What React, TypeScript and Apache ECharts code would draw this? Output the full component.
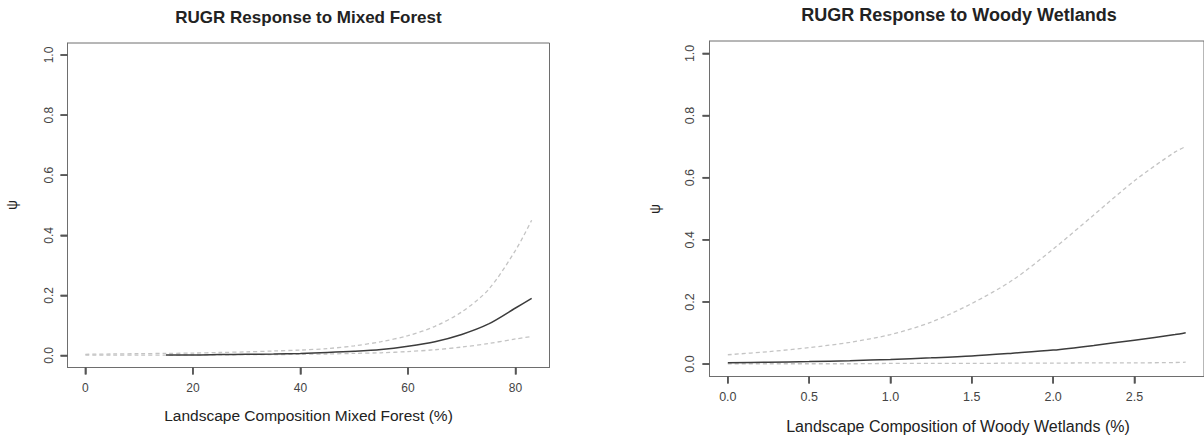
import React, { useEffect, useRef } from "react";
import * as echarts from "echarts";

// Left panel: Mixed Forest
const mixedForestX = [0, 5, 10, 15, 20, 25, 30, 35, 40, 45, 50, 55, 60, 65, 70, 75, 80, 83];
const mixedUpper = [0.004, 0.005, 0.006, 0.007, 0.008, 0.010, 0.012, 0.015, 0.018, 0.023, 0.032, 0.046, 0.066, 0.097, 0.145, 0.22, 0.35, 0.45];
const mixedFit = [null, null, null, 0.002, 0.002, 0.003, 0.004, 0.005, 0.007, 0.010, 0.014, 0.020, 0.031, 0.046, 0.070, 0.105, 0.158, 0.19];
const mixedLower = [0.001, 0.001, 0.001, 0.001, 0.002, 0.002, 0.003, 0.003, 0.004, 0.005, 0.007, 0.009, 0.013, 0.019, 0.028, 0.040, 0.055, 0.063];
const mixedTicks = [0, 20, 40, 60, 80];

// Right panel: Woody Wetlands
const wetlandsX = [0, 0.25, 0.5, 0.75, 1.0, 1.25, 1.5, 1.75, 2.0, 2.25, 2.5, 2.75, 2.815];
const wetlandsUpper = [0.03, 0.04, 0.053, 0.07, 0.095, 0.135, 0.195, 0.27, 0.37, 0.48, 0.59, 0.683, 0.70];
const wetlandsFit = [0.004, 0.006, 0.008, 0.011, 0.015, 0.02, 0.026, 0.035, 0.045, 0.06, 0.077, 0.095, 0.101];
const wetlandsLower = [0.001, 0.001, 0.001, 0.001, 0.002, 0.002, 0.002, 0.003, 0.003, 0.004, 0.004, 0.005, 0.006];
const wetlandsTicks = [0, 0.5, 1.0, 1.5, 2.0, 2.5];

const yTicks = [0, 0.2, 0.4, 0.6, 0.8, 1.0];

const titles = ["RUGR Response to Mixed Forest", "RUGR Response to Woody Wetlands"];
const xTitles = ["Landscape Composition Mixed Forest (%)", "Landscape Composition of Woody Wetlands (%)"];
const yTitle = "\u03C8";

const FONT = "'Liberation Sans', Arial, Helvetica, sans-serif";
const BOX = "#6e6e6e";
const TICK = "#555555";
const TXT = "#444";
const TICK_LEN = 7;

const X_RANGES = [
  [-3.32, 86.32],
  [-0.1126, 2.9276],
];
const Y_RANGE = [-0.04, 1.04];
const X_TICKS = [mixedTicks, wetlandsTicks];

function pairs(xs: number[], ys: (number | null)[]) {
  const out: number[][] = [];
  xs.forEach((x, i) => {
    const y = ys[i];
    if (y !== null && y !== undefined) out.push([x, y]);
  });
  return out;
}

function xAxisCfg(gridIndex: number, digits: number, fontSize: number) {
  const ticks = X_TICKS[gridIndex];
  return {
    type: "value",
    gridIndex,
    min: X_RANGES[gridIndex][0],
    max: X_RANGES[gridIndex][1],
    axisLine: { show: true, onZero: false, lineStyle: { color: BOX, width: 1 } },
    splitLine: { show: false },
    axisTick: { show: true, length: TICK_LEN, customValues: ticks, lineStyle: { color: TICK, width: 1.5 } },
    axisLabel: {
      customValues: ticks,
      margin: 14,
      fontSize,
      color: TXT,
      fontFamily: FONT,
      formatter: (v: number) => v.toFixed(digits),
    },
  };
}

function yAxisCfg(gridIndex: number, fontSize: number) {
  return {
    type: "value",
    gridIndex,
    min: Y_RANGE[0],
    max: Y_RANGE[1],
    axisLine: { show: true, onZero: false, lineStyle: { color: BOX, width: 1 } },
    splitLine: { show: false },
    axisTick: { show: true, length: TICK_LEN, customValues: yTicks, lineStyle: { color: TICK, width: 1.5 } },
    axisLabel: {
      customValues: yTicks,
      rotate: 90,
      margin: 13,
      fontSize,
      color: TXT,
      fontFamily: FONT,
      formatter: (v: number) => v.toFixed(1),
    },
  };
}

function lineSeries(idx: number, data: number[][], kind: "fit" | "ci") {
  return {
    type: "line",
    xAxisIndex: idx,
    yAxisIndex: idx,
    data,
    showSymbol: false,
    symbol: "none",
    smooth: 0.3,
    silent: true,
    z: kind === "fit" ? 3 : 2,
    lineStyle:
      kind === "fit"
        ? { color: "#3c3c3c", width: 1.5, type: "solid" }
        : { color: "#c4c4c4", width: 1.3, type: [4, 3] },
  };
}

const textGraphics = [
  { id: "t0", type: "text", x: 308.5, y: 17, style: { text: titles[0], font: `bold 17px ${FONT}`, fill: "#222", align: "center", verticalAlign: "middle" } },
  { id: "t1", type: "text", x: 959, y: 15, style: { text: titles[1], font: `bold 18px ${FONT}`, fill: "#222", align: "center", verticalAlign: "middle" } },
  { id: "x0", type: "text", x: 308.5, y: 415.5, style: { text: xTitles[0], font: `15.5px ${FONT}`, fill: "#222", align: "center", verticalAlign: "middle" } },
  { id: "x1", type: "text", x: 958, y: 426, style: { text: xTitles[1], font: `16px ${FONT}`, fill: "#222", align: "center", verticalAlign: "middle" } },
  { id: "y0", type: "text", x: 12, y: 205, rotation: Math.PI / 2, style: { text: yTitle, font: `14px ${FONT}`, fill: "#222", align: "center", verticalAlign: "middle" } },
  { id: "y1", type: "text", x: 655, y: 209, rotation: Math.PI / 2, style: { text: yTitle, font: `14px ${FONT}`, fill: "#222", align: "center", verticalAlign: "middle" } },
];

export default function App() {
  const ref = useRef<HTMLDivElement>(null);
  useEffect(() => {
    document.body.style.margin = "0";
    const chart = echarts.init(ref.current!, null, { renderer: "svg" });
    chart.setOption({
      animation: false,
      grid: [
        { left: 67.5, top: 43, width: 482, height: 324.5, show: true, borderColor: BOX, borderWidth: 1 },
        { left: 709.5, top: 41, width: 499, height: 335.5, show: true, borderColor: BOX, borderWidth: 1 },
      ],
      xAxis: [xAxisCfg(0, 0, 12), xAxisCfg(1, 1, 12.5)],
      yAxis: [yAxisCfg(0, 12), yAxisCfg(1, 12.5)],
      series: [
        lineSeries(0, pairs(mixedForestX, mixedUpper), "ci"),
        lineSeries(0, pairs(mixedForestX, mixedLower), "ci"),
        lineSeries(0, pairs(mixedForestX, mixedFit), "fit"),
        lineSeries(1, pairs(wetlandsX, wetlandsUpper), "ci"),
        lineSeries(1, pairs(wetlandsX, wetlandsLower), "ci"),
        lineSeries(1, pairs(wetlandsX, wetlandsFit), "fit"),
      ],
      graphic: textGraphics,
    });

    // Tick marks positioned through the axes' own scales
    try {
      const tickLines: any[] = [];
      [0, 1].forEach((g) => {
        X_TICKS[g].forEach((v, i) => {
          const p = chart.convertToPixel({ xAxisIndex: g, yAxisIndex: g } as any, [v, Y_RANGE[0]]) as number[];
          if (p && isFinite(p[0]) && isFinite(p[1])) {
            tickLines.push({
              id: `xt${g}_${i}`,
              type: "line",
              z: 100,
              shape: { x1: p[0], y1: p[1], x2: p[0], y2: p[1] + TICK_LEN },
              style: { stroke: TICK, lineWidth: 1.5 },
            });
          }
        });
        yTicks.forEach((v, i) => {
          const p = chart.convertToPixel({ xAxisIndex: g, yAxisIndex: g } as any, [X_RANGES[g][0], v]) as number[];
          if (p && isFinite(p[0]) && isFinite(p[1])) {
            tickLines.push({
              id: `yt${g}_${i}`,
              type: "line",
              z: 100,
              shape: { x1: p[0], y1: p[1], x2: p[0] - TICK_LEN, y2: p[1] },
              style: { stroke: TICK, lineWidth: 1.5 },
            });
          }
        });
      });
      chart.setOption({ graphic: [...textGraphics, ...tickLines] });
    } catch (e) {
      // keep the chart even if tick placement fails
    }

    return () => chart.dispose();
  }, []);
  return <div ref={ref} style={{ width: 1204, height: 440 }} />;
}
